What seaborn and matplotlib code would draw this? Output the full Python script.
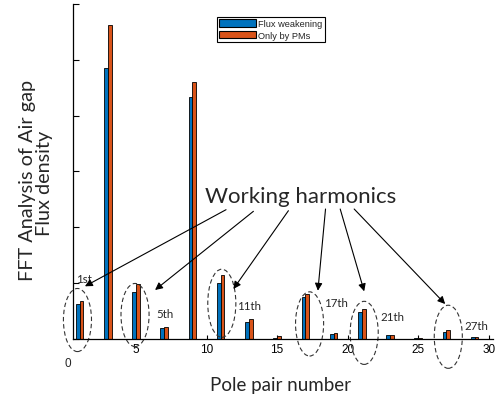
import numpy as np
import pandas as pd
import matplotlib
matplotlib.use("Agg")
import matplotlib.pyplot as plt
from matplotlib.patches import Ellipse, Patch
import seaborn as sns

# ---- data ----
harmonics = [1, 3, 5, 7, 9, 11, 13, 15, 17, 19, 21, 23, 25, 27, 29]
flux_weakening = [0.63, 4.86, 0.85, 0.20, 4.33, 1.00, 0.30, 0.01, 0.75, 0.09, 0.48, 0.08, 0.02, 0.13, 0.03]
only_pms = [0.68, 5.63, 0.98, 0.21, 4.61, 1.15, 0.35, 0.05, 0.81, 0.10, 0.54, 0.08, 0.02, 0.17, 0.04]
series_names = ["Flux weakening", "Only by PMs"]
series_colors = ["#0072BD", "#D95319"]
x_ticks = [5, 10, 15, 20, 25, 30]
y_ticks = [0, 1, 2, 3, 4, 5, 6]

# annotations: working harmonic labels
work_labels = ["1st", "5th", "11th", "17th", "21th", "27th"]
label_pos = [(0.745, 1.087), (6.42, 0.448), (12.14, 0.596), (18.35, 0.645), (22.3, 0.407), (28.26, 0.238)]
ellipse_pos = [(0.85, 0.34, 1.13), (4.93, 0.43, 1.13), (11.08, 0.64, 1.22),
               (17.3, 0.27, 1.15), (21.17, 0.11, 1.13), (27.13, 0.04, 1.13)]
arrow_start = [(11.38, 2.316), (13.32, 2.287), (15.80, 2.298), (18.43, 2.328), (19.47, 2.328), (20.46, 2.328)]
arrow_end = [(1.38, 0.944), (6.35, 0.878), (11.9, 0.896), (17.89, 0.865), (21.17, 0.854), (26.91, 0.627)]

df = pd.DataFrame({
    "Pole pair": harmonics * 2,
    "Amplitude": flux_weakening + only_pms,
    "Series": [series_names[0]] * len(harmonics) + [series_names[1]] * len(harmonics),
})

sns.set_style("white")
plt.rcParams["font.family"] = ["Liberation Sans", "DejaVu Sans"]

fig = plt.figure(figsize=(4.95, 4.02), dpi=100)
ax = fig.add_axes([0.1465, 0.1542, 0.8495, 0.8334])

sns.barplot(data=df, x="Pole pair", y="Amplitude", hue="Series",
            palette=series_colors, native_scale=True, width=0.27,
            edgecolor="black", linewidth=0.6, saturation=1, legend=False, ax=ax,
            errorbar=None)

ax.set_xlim(0.5, 30.3)
ax.set_ylim(0, 6)
ax.set_xticks(x_ticks)
ax.set_xticklabels([str(t) for t in x_ticks], fontsize=8.5)
ax.set_yticks(y_ticks)
ax.set_yticklabels([])
ax.tick_params(axis="both", direction="in", width=0.8, colors="black", pad=3,
               left=True, bottom=True)
ax.tick_params(axis="y", length=4)
ax.tick_params(axis="x", length=3)
for s in ["top", "right"]:
    ax.spines[s].set_visible(False)
for s in ["left", "bottom"]:
    ax.spines[s].set_color("black")
    ax.spines[s].set_linewidth(0.9)
ax.set_xlabel("")
ax.set_ylabel("")

ax.text(0.2, -0.43, "0", fontsize=8.5, ha="center", va="center", clip_on=False)

lab_font = ["Lato", "DejaVu Sans"]
fig.text(0.5657, 0.042, "Pole pair number", fontsize=13.5, family=lab_font, ha="center", va="center")
fig.text(27.5 / 495, 1 - 180 / 402, "FFT Analysis of Air gap", fontsize=14.3, family=lab_font,
         rotation=90, ha="center", va="center")
fig.text(44.5 / 495, 1 - 183 / 402, "Flux density", fontsize=14.3, family=lab_font,
         rotation=90, ha="center", va="center")

handles = [Patch(facecolor=c, edgecolor="black", linewidth=0.8) for c in series_colors]
leg = ax.legend(handles, series_names, loc="upper left", bbox_to_anchor=(216.5 / 495, 1 - 18 / 402),
                bbox_transform=fig.transFigure, fontsize=6.7, handlelength=4.0, handleheight=0.9,
                handletextpad=0.25, borderpad=0.25, labelspacing=0.25, borderaxespad=0,
                fancybox=False, framealpha=1, edgecolor="black")
leg.get_frame().set_linewidth(0.8)

for (cx, cy, h) in ellipse_pos:
    e = Ellipse((cx, cy), 1.99, h, fill=False, edgecolor="#333333", linestyle=(0, (4, 2.5)),
                linewidth=0.8, clip_on=False)
    ax.add_patch(e)

for txt, (lx, ly) in zip(work_labels, label_pos):
    ax.text(lx, ly, txt, fontsize=8.3, family=lab_font, ha="left", va="center")

ax.text(16.63, 2.567, "Working harmonics", fontsize=16, family=lab_font, ha="center", va="center")
for (sx, sy), (ex, ey) in zip(arrow_start, arrow_end):
    ax.annotate("", xy=(ex, ey), xytext=(sx, sy),
                arrowprops=dict(arrowstyle="-|>", color="black", lw=0.8, mutation_scale=11,
                                shrinkA=0, shrinkB=0))

fig.savefig("out.png", dpi=100)
